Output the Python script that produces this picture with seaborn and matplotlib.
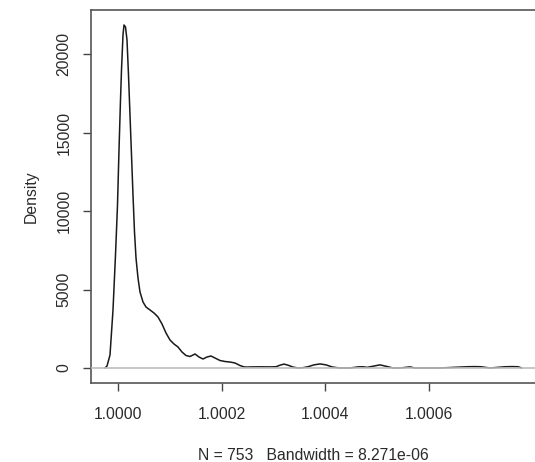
import matplotlib
matplotlib.use("Agg")
import matplotlib.pyplot as plt
import seaborn as sns
import numpy as np
import pandas as pd

# ---- data ----
x_vals = [0.99997493, 0.99997879, 0.99998457, 0.99999036, 0.99999518, 0.99999904,
          1.00000193, 1.00000482, 1.00000675, 1.00000964, 1.00001157, 1.00001446,
          1.00001736, 1.00002025, 1.00002314, 1.00002604, 1.00002893, 1.00003182,
          1.00003472, 1.00003857, 1.00004243, 1.00004822, 1.00005400, 1.00006172,
          1.00006943, 1.00007715, 1.00008486, 1.00009258, 1.00010029, 1.00010800,
          1.00011572, 1.00012343, 1.00013115, 1.00013886, 1.00014851, 1.00015622,
          1.00016393, 1.00017165, 1.00017936, 1.00018708, 1.00019672, 1.00020636,
          1.00021601, 1.00022565, 1.00023529, 1.00024301, 1.00024879, 1.00025844,
          1.00027772, 1.00029315, 1.00030472, 1.00031244, 1.00032015, 1.00032787,
          1.00033751, 1.00034716, 1.00035680, 1.00036644, 1.00037801, 1.00038959,
          1.00040116, 1.00041273, 1.00042045, 1.00042816, 1.00044744, 1.00046287,
          1.00047252, 1.00048023, 1.00048987, 1.00050530, 1.00052073, 1.00053038,
          1.00054388, 1.00056316, 1.00057281, 1.00062102, 1.00067309, 1.00068660,
          1.00070010, 1.00071746, 1.00074638, 1.00075988, 1.00077146, 1.00077917]
density = [0, 127, 828, 3695, 7198, 10383,
           13887, 17072, 18983, 21212, 21849, 21722,
           20894, 18664, 16116, 13568, 11020, 8663,
           7007, 5733, 4841, 4204, 3886, 3695,
           3504, 3249, 2803, 2230, 1784, 1529,
           1338, 1019, 796, 733, 892, 701,
           573, 701, 764, 637, 478, 414,
           382, 318, 159, 70, 60, 70,
           75, 70, 80, 180, 250, 180,
           60, 0, 20, 80, 200, 260,
           200, 70, 30, 0, 0, 70,
           80, 40, 100, 200, 80, 0,
           0, 70, 0, 0, 80, 90,
           80, 0, 80, 90, 80, 0]

x_ticks = [1.0000, 1.0002, 1.0004, 1.0006]
x_tick_labels = ["1.0000", "1.0002", "1.0004", "1.0006"]
y_ticks = [0, 5000, 10000, 15000, 20000]
y_tick_labels = ["0", "5000", "10000", "15000", "20000"]
x_label = "N = 753   Bandwidth = 8.271e-06"
y_label = "Density"

df = pd.DataFrame({"x": x_vals, "density": density})

sns.set_style("white")
plt.rcParams["font.family"] = ["Liberation Sans", "DejaVu Sans"]

fig = plt.figure(figsize=(5.35, 4.62), dpi=100)
W, H = 535, 462
left, right, top, bottom = 91, 536, 10, 383
ax = fig.add_axes([left / W, (H - bottom) / H, (right - left) / W, (bottom - top) / H])

sns.lineplot(data=df, x="x", y="density", ax=ax, color="#1a1a1a", linewidth=1.1, zorder=2)
ax.axhline(0, color="#bdbdbd", linewidth=1.2, zorder=3)

ax.set_xlim(0.99994793, 1.00080617)
ax.set_ylim(-955, 22803)

fs = 11.3
txt = "#2a2a2a"
ax.set_xticks(x_ticks, x_tick_labels)
ax.set_yticks(y_ticks, y_tick_labels)
for lab in ax.get_yticklabels():
    lab.set_rotation(90)
    lab.set_va("center")
ax.tick_params(axis="both", direction="out", length=6, width=1, color="#444444",
               labelsize=fs, labelcolor=txt, left=True, bottom=True)
ax.tick_params(axis="x", pad=11)
ax.tick_params(axis="y", pad=8)

for s in ax.spines.values():
    s.set_color("#555555")
    s.set_linewidth(1.2)

ax.set_xlabel(x_label, fontsize=fs, color=txt, labelpad=19)
ax.set_ylabel(y_label, fontsize=fs, color=txt, labelpad=13)

fig.savefig("out.png", dpi=100, facecolor="white")
